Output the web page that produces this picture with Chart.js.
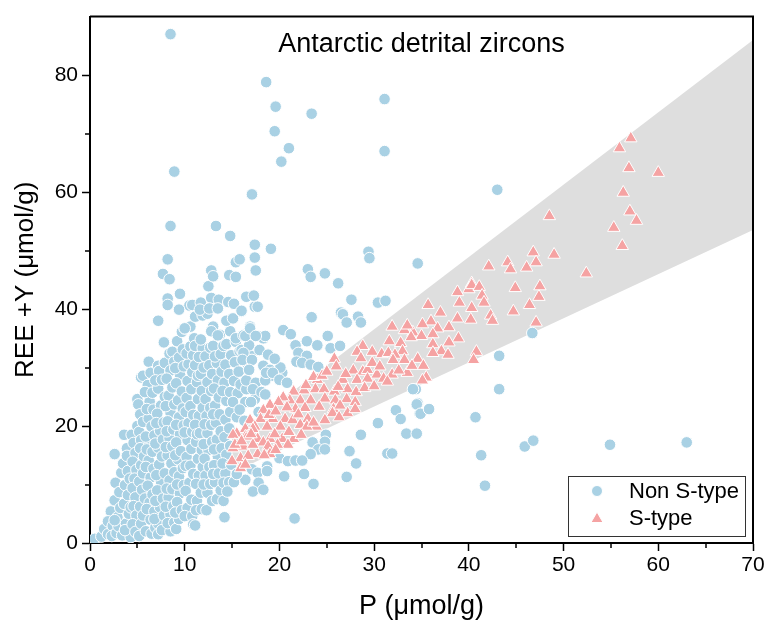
<!DOCTYPE html>
<html>
<head>
<meta charset="utf-8">
<script src="https://cdn.jsdelivr.net/npm/chart.js@4.4.0/dist/chart.umd.min.js"></script>
<style>
  html, body { margin: 0; padding: 0; background: #fff; }
</style>
</head>
<body>
<canvas id="myScatter" width="767" height="635"></canvas>
<script>
  const titleText = 'Antarctic detrital zircons';
  const xLabel = 'P (\u03bcmol/g)';
  const yLabel = 'REE +Y (\u03bcmol/g)';
  const seriesNames = ['Non S-type', 'S-type'];

  const xTicks = [0, 10, 20, 30, 40, 50, 60, 70];
  const xMinor = [5, 15, 25, 35, 45, 55, 65];
  const yTicks = [0, 20, 40, 60, 80];
  const yMinor = [10, 30, 50, 70];

  // grey field of S-type zircons
  const bandX = [15, 70];
  const bandUpper = [18, 86];
  const bandLower = [12, 53.5];

  // Non S-type, [P, REE+Y]
  const nonSType = [
    // main cluster, left to right
    [0.5,0.7],[1.2,1.1],[1.5,2.4],[1.9,1.5],[2.2,5.4],[1.9,3.7],[2.4,2.9],[2.3,1.2],
    [2.6,15.2],[2.7,10.3],[2.6,7.3],[2.9,4.4],[2.8,1.7],[3.1,8.7],[3.2,6.0],[3.0,2.9],[2.6,3.9],[3.3,12.0],[3.4,1.3],
    [3.6,18.5],[3.5,13.6],[3.9,16.2],[3.7,9.9],[4.0,12.3],[3.8,3.3],[4.1,5.0],[3.6,6.7],[4.0,8.2],[3.9,14.9],[4.3,1.0],[4.2,11.0],[3.7,2.2],[4.4,18.5],[4.3,6.1],
    [5.0,20.0],[4.6,17.1],[4.8,15.4],[4.5,13.9],[4.9,12.5],[4.7,11.0],[4.5,9.4],[4.8,7.8],[4.6,6.3],[4.9,4.7],[4.5,3.2],[4.8,1.9],[5.2,1.2],[5.0,24.6],[5.1,23.7],[5.3,22.0],[5.2,19.0],[5.4,17.6],[5.3,16.2],[5.4,13.3],[5.2,10.5],[5.5,9.1],[5.3,6.2],[5.4,3.3],
    [5.4,28.3],[5.6,28.6],[5.6,20.7],[5.7,14.8],[5.6,11.9],[5.8,7.6],[5.6,4.7],[5.9,2.0],[6.2,31.0],[6.4,29.1],[6.1,27.0],[6.3,24.2],[6.2,21.3],[6.5,19.9],[6.3,17.0],[6.2,14.1],[6.4,11.2],[6.1,9.8],[6.3,6.9],[6.4,4.0],[6.5,1.6],[5.8,25.8],[6.0,22.9],[5.9,18.2],[6.0,16.0],[5.9,13.0],[6.0,5.8],
    [6.6,25.7],[6.7,22.8],[6.8,18.4],[6.6,15.6],[6.7,12.7],[6.6,8.3],[6.8,5.4],[6.9,2.6],[7.2,30.3],[7.3,29.4],[7.2,26.4],[7.5,23.5],[7.1,22.1],[7.4,19.2],[7.2,16.3],[7.3,13.4],[7.5,10.5],[7.1,9.0],[7.4,6.1],[7.2,3.3],[7.2,1.5],[6.9,27.8],[7.0,20.5],[6.9,17.0],[7.0,11.6],[6.9,7.2],[6.8,4.1],
    [7.9,30.8],[7.6,27.9],[7.9,25.0],[7.8,20.6],[7.7,17.7],[7.6,14.8],[7.9,11.9],[7.7,7.6],[7.8,4.7],[7.6,2.2],[8.4,32.4],[8.5,29.5],[8.1,28.1],[8.3,25.2],[8.5,22.3],[8.2,20.8],[8.4,17.9],[8.2,15.0],[8.6,13.6],[8.4,10.7],[8.3,7.8],[8.5,4.9],[8.5,2.0],[8.0,23.4],[8.1,19.1],[8.0,16.4],[8.1,9.3],[8.0,6.2],[8.2,3.4],[7.8,34.3],
    [8.7,32.7],[8.9,31.0],[8.7,26.6],[8.9,23.7],[8.8,19.4],[8.7,16.5],[8.9,12.1],[8.7,9.2],[8.8,6.3],[8.9,3.5],[9.2,34.5],[9.4,31.7],[9.5,28.8],[9.1,27.3],[9.3,24.4],[9.4,21.5],[9.5,18.6],[9.1,17.2],[9.3,14.3],[9.4,11.4],[9.5,8.5],[9.2,7.0],[9.1,2.4],[9.4,4.1],[9.0,29.9],[9.1,20.2],[9.0,15.0],[9.2,10.0],[9.0,5.2],
    [9.7,36.1],[9.8,33.1],[9.9,30.2],[9.7,25.9],[9.8,23.0],[9.9,20.1],[9.6,15.7],[9.8,12.8],[9.9,9.9],[9.7,5.6],[10.0,36.7],[10.4,30.6],[10.3,27.7],[10.2,24.8],[10.4,20.5],[10.3,17.6],[10.2,14.7],[10.5,10.3],[10.1,8.9],[10.3,6.0],[10.2,32.4],[10.1,22.4],[10.0,18.9],[10.1,13.2],[10.0,4.6],
    [10.6,37.0],[10.6,33.6],[10.9,32.1],[10.8,29.2],[10.7,26.3],[10.6,23.4],[10.9,21.9],[10.8,19.0],[10.7,16.1],[10.6,13.2],[10.9,11.8],[10.7,7.4],[10.8,4.6],[10.9,3.2],[11.1,3.0],[11.0,35.0],[11.1,33.7],[11.1,30.4],[11.3,27.5],[11.4,24.6],[11.5,21.7],[11.1,20.2],[11.2,17.3],[11.4,14.4],[11.5,11.5],[11.2,10.1],[11.3,7.2],[11.2,5.6],[11.4,28.6],[11.3,18.6],
    [11.9,33.3],[11.5,31.8],[11.7,28.9],[11.8,26.0],[11.9,23.1],[11.6,18.8],[11.8,15.9],[11.9,13.0],[11.7,8.6],[11.8,5.8],[12.3,5.6],[12.2,31.9],[12.4,27.5],[12.2,24.6],[12.3,21.7],[12.4,18.8],[12.5,15.9],[12.1,14.4],[12.2,11.5],[12.4,8.6],[12.0,30.0],[12.1,20.3],[12.0,16.9],[12.0,10.0],[11.7,34.8],
    [12.7,33.4],[12.6,30.4],[12.9,28.9],[12.8,26.0],[12.7,23.1],[12.8,20.2],[12.9,17.3],[12.6,13.0],[12.7,10.1],[12.9,7.2],[13.0,33.7],[13.4,30.8],[13.5,27.8],[13.1,26.4],[13.2,23.5],[13.3,20.6],[13.4,17.7],[13.5,14.8],[13.1,13.3],[13.2,10.4],[13.4,7.5],[13.0,22.0],[13.1,16.0],[13.0,11.8],[13.2,31.9],
    [13.7,35.6],[13.8,32.3],[13.9,29.3],[13.6,24.9],[13.7,22.0],[13.8,19.1],[13.9,16.2],[13.6,11.9],[13.8,9.0],[14.1,33.7],[14.3,30.5],[14.2,27.4],[14.4,24.3],[14.3,21.1],[14.2,18.1],[14.4,15.1],[14.3,11.9],[14.2,4.4],[14.1,7.2],[14.0,26.0],[14.0,13.6],[14.1,10.3],
    [14.8,36.2],[14.4,34.0],[14.9,32.1],[14.7,28.9],[14.8,25.8],[14.9,22.6],[14.7,19.6],[14.8,16.6],[14.9,13.4],[14.7,10.4],[14.5,8.8],[14.8,22.4],[15.3,30.9],[15.2,27.7],[15.6,25.6],[15.1,24.1],[15.5,21.5],[15.5,11.8],[15.2,10.4],[15.4,34.4],[15.4,35.0],
    [15.8,32.8],[15.7,29.3],[16.0,33.0],[17.0,32.0],[16.7,30.5],[15.9,27.1],[16.5,26.3],[16.2,35.5],[16.9,37.0],[16.8,33.8],[16.2,32.5],[16.1,31.3],[17.1,31.3],[16.5,27.8],[16.4,24.1],[16.4,10.8],[16.8,29.6],[16.4,35.4],[16.9,36.7],[17.5,27.4],[17.4,24.6],[17.0,24.1],[17.8,22.4],[17.2,26.3],[15.8,22.8],[16.3,20.9],
    [17.7,35.4],[18.3,35.0],[18.5,35.4],[17.5,35.4],[18.3,30.3],[19.0,29.6],[20.3,29.1],[20.1,30.0],[19.2,28.6],[18.5,27.8],[18.1,25.8],[18.5,25.4],[18.6,29.1],[19.3,29.1],[20.0,27.9],[20.8,27.4],[17.9,33.0],[18.8,32.2],[19.5,31.5],[17.1,12.6],[18.7,13.1],
    // scattered above the cluster
    [7.2,38.0],[11.1,38.7],[11.9,38.9],[12.4,39.2],[14.4,38.0],[15.1,38.4],[16.0,39.6],[17.4,40.4],[10.0,36.7],[13.0,37.0],[12.8,36.2],[13.5,35.5],
    [12.5,43.9],[9.5,42.6],[8.2,41.8],[8.2,40.7],[10.5,40.6],[10.8,40.7],[11.7,41.1],[12.8,41.9],[13.6,41.6],[14.6,41.2],[15.2,40.9],[16.5,42.1],[17.3,42.3],[17.7,40.4],[9.4,39.9],[11.6,39.9],[12.6,40.1],[13.5,40.1],[16.0,39.7],
    [8.5,54.2],[13.3,54.2],[14.8,52.5],[17.4,51.0],[19.1,50.3],[8.2,48.5],[7.7,46.0],[8.4,45.1],[12.8,46.6],[13.0,45.6],[14.7,45.8],[15.4,48.0],[15.8,48.5],[15.4,45.5],[17.4,48.8],[17.5,46.6],
    [8.5,87.0],[18.6,78.8],[19.6,74.6],[19.5,70.4],[21.0,67.5],[20.2,65.2],[23.4,73.4],[31.1,75.9],[31.1,67.0],[8.9,63.5],[17.1,59.6],[43.0,60.4],
    [23.0,46.8],[23.3,45.5],[24.8,46.1],[29.4,49.8],[29.5,48.7],[34.6,47.8],[26.2,44.4],[27.6,41.6],[30.4,41.1],[31.2,41.4],
    [23.4,38.6],[26.5,39.4],[26.7,39.1],[28.3,38.7],[27.1,37.7],[28.6,37.7],[20.4,36.4],[21.2,35.7],[22.9,34.5],[21.7,33.8],[24.0,33.8],[25.1,35.4],[25.4,33.3],[26.4,33.7],[22.0,32.5],[22.9,32.0],[21.8,31.0],[22.4,30.8],[23.3,30.5],[24.1,30.1],
    // below the grey field
    [34.4,26.3],[34.6,23.9],[32.3,22.7],[32.8,21.2],[34.8,22.1],[30.4,20.5],[33.4,18.7],[28.6,18.5],[24.9,18.5],[24.8,17.3],[23.5,17.2],[24.1,16.0],[24.8,16.0],[27.4,15.7],[31.4,15.3],[31.9,15.3],[28.1,13.6],[23.3,15.2],[20.0,14.5],[20.9,14.0],[21.7,14.1],[22.4,14.1],[17.7,12.0],[18.7,12.3],[20.5,11.4],[22.6,11.8],[23.6,10.1],[27.1,11.3],[17.8,10.3],[17.2,8.8],[18.3,9.1],[15.5,11.8],[21.6,4.2],
    [46.7,35.9],[43.2,32.0],[43.2,26.3],[34.1,26.3],[34.5,23.7],[34.9,22.1],[35.8,22.9],[34.5,18.7],[40.7,21.5],[41.3,15.0],[41.7,9.8],[45.9,16.5],[46.8,17.5],[54.9,16.8],[63.0,17.2]
  ];

  // S-type, [P, REE+Y]
  const sType = [
    [57.1,69.2],[55.9,67.5],[56.9,64.1],[60.0,63.3],[56.3,59.9],[57.0,56.7],[57.7,55.1],[55.3,53.9],[56.2,50.8],[48.5,55.9],
    [46.8,49.7],[49.0,49.3],[47.1,48.0],[44.1,48.0],[44.4,46.8],[42.1,47.3],[46.1,47.1],[52.4,46.1],[40.3,44.4],
    [38.8,42.9],[40.0,43.4],[40.3,44.1],[41.1,43.8],[41.4,42.3],[41.6,41.1],[39.0,41.1],[35.7,40.7],[44.9,43.6],[47.5,43.9],[47.4,42.1],[46.4,40.7],[44.7,39.6],
    [40.3,40.2],[40.2,38.2],[42.3,38.9],[42.5,38.0],[38.8,38.4],[37.0,39.4],[36.0,37.9],[35.1,37.4],[47.1,37.7],[37.9,36.9],[36.7,36.7],[34.1,36.0],[33.2,36.4],
    [36.2,35.7],[35.0,35.4],[33.9,35.2],[38.9,35.0],[37.9,34.3],[36.2,34.0],[32.8,34.2],[37.1,32.8],[37.8,32.2],[36.2,32.5],[33.0,32.8],[40.8,32.7],[40.5,31.3],
    [34.6,31.5],[33.2,31.3],[35.2,30.3],[33.5,29.1],[35.5,28.3],[35.1,27.8],
    [31.9,37.0],[33.5,37.2],[31.6,34.5],[28.8,33.7],[28.2,32.7],[29.8,32.7],[30.8,32.3],[31.5,32.5],[32.2,32.2],[25.8,31.5],[28.6,31.6],[32.0,31.3],
    [27.8,29.5],[28.8,29.3],[29.3,29.6],[30.3,28.8],[31.9,28.8],[32.6,29.5],[34.0,30.3],[26.7,27.9],[24.0,27.9],[28.2,27.9],[29.3,28.1],[31.0,28.1],[31.4,27.6],
    [23.8,26.3],[24.7,26.3],[22.6,26.1],[21.5,25.9],[25.8,25.9],[27.2,26.3],[28.1,25.8],[24.8,24.7],[25.9,24.4],[27.1,24.6],[28.0,24.1],
    [22.2,24.4],[23.3,24.4],[21.1,24.4],[20.4,24.9],[19.9,24.1],[19.0,23.6],[18.3,22.7],[22.7,23.1],[21.7,22.9],[25.7,22.9],[27.2,22.2],[28.0,22.9],[25.6,22.2],
    [18.0,21.2],[16.9,21.0],[19.3,21.2],[20.6,21.2],[21.4,21.0],[23.0,21.2],[22.2,20.2],[23.9,19.9],[22.9,19.9],[20.1,19.9],[18.7,19.9],[17.4,19.9],[16.4,19.5],
    [15.5,18.7],[16.4,18.2],[17.7,17.8],[19.0,17.8],[20.3,17.8],[21.5,17.8],[18.3,17.2],[20.9,16.8],[19.8,16.8],[18.8,16.5],[16.2,16.5],[15.1,16.2],
    [17.7,15.2],[19.0,15.2],[15.9,14.5],[15.0,14.0],[15.1,18.5],[15.3,16.8],[15.9,12.8],[16.6,18.2],[17.2,19.5],
    [16.0,17.4],[17.0,18.6],[18.9,21.9],[19.6,22.5],[20.8,23.2],[22.0,22.0],[22.8,27.0],[23.6,28.4],[24.5,28.6],[25.0,29.3],[26.0,30.2],
    [24.2,23.3],[24.8,21.0],[26.3,21.5],[23.6,20.6],[21.0,19.0],[19.5,18.6],[17.2,16.8],[16.7,14.9],[18.4,15.0],[16.4,13.4],[19.6,15.9],
    [22.3,18.5],[26.4,23.5],[29.0,26.5],[30.0,26.8],[29.8,30.8],[30.6,30.2],[27.0,28.9],[26.2,26.7]
  ];

  const blue = '#a9d1e4';
  const pink = '#f5a3a3';
  const band = '#dedede';
  const fontFamily = '"Liberation Sans", Arial, sans-serif';

  const toPts = arr => arr.map(p => ({ x: p[0], y: p[1] }));

  // frame, minor ticks, inner title and legend
  const decorations = {
    id: 'decorations',
    afterDraw(chart) {
      const { ctx, chartArea: a, scales: { x, y } } = chart;
      ctx.save();
      ctx.strokeStyle = '#000';
      ctx.lineWidth = 2;
      ctx.beginPath();
      ctx.moveTo(a.left, a.top);
      ctx.lineTo(a.right, a.top);
      ctx.lineTo(a.right, a.bottom);
      ctx.stroke();

      ctx.lineWidth = 1.5;
      ctx.beginPath();
      xMinor.forEach(v => {
        const px = Math.round(x.getPixelForValue(v));
        ctx.moveTo(px, a.bottom);
        ctx.lineTo(px, a.bottom + 5);
      });
      yMinor.forEach(v => {
        const py = Math.round(y.getPixelForValue(v));
        ctx.moveTo(a.left, py);
        ctx.lineTo(a.left - 5, py);
      });
      ctx.stroke();

      ctx.fillStyle = '#000';
      ctx.font = '27px ' + fontFamily;
      ctx.textAlign = 'center';
      ctx.textBaseline = 'middle';
      ctx.fillText(titleText, (a.left + a.right) / 2, a.top + 28);

      // legend box
      const bx = a.right - 185, by = a.bottom - 67, bw = 177, bh = 60;
      ctx.lineWidth = 1;
      ctx.strokeStyle = '#333';
      ctx.strokeRect(bx + 0.5, by + 0.5, bw, bh);

      ctx.fillStyle = blue;
      ctx.strokeStyle = '#fff';
      ctx.beginPath();
      ctx.arc(bx + 29, by + 15, 5.5, 0, Math.PI * 2);
      ctx.fill();
      ctx.stroke();

      ctx.fillStyle = pink;
      const tx = bx + 29, ty = by + 43, r = 7;
      ctx.beginPath();
      ctx.moveTo(tx, ty - r);
      ctx.lineTo(tx + r * 0.866, ty + r * 0.5);
      ctx.lineTo(tx - r * 0.866, ty + r * 0.5);
      ctx.closePath();
      ctx.fill();
      ctx.stroke();

      ctx.fillStyle = '#000';
      ctx.font = '22px ' + fontFamily;
      ctx.textAlign = 'left';
      ctx.fillText(seriesNames[0], bx + 61, by + 16);
      ctx.fillText(seriesNames[1], bx + 61, by + 43);
      ctx.restore();
    }
  };

  const scatter = document.getElementById('myScatter');

  new Chart(scatter, {
    type: 'scatter',
    data: {
      datasets: [
        {
          type: 'line',
          data: bandX.map((v, i) => ({ x: v, y: bandUpper[i] })),
          borderWidth: 0,
          pointRadius: 0,
          fill: false,
          order: 3
        },
        {
          type: 'line',
          data: bandX.map((v, i) => ({ x: v, y: bandLower[i] })),
          borderWidth: 0,
          pointRadius: 0,
          backgroundColor: band,
          fill: '-1',
          order: 3
        },
        {
          label: seriesNames[0],
          data: toPts(nonSType),
          pointStyle: 'circle',
          pointRadius: 5.8,
          backgroundColor: blue,
          borderColor: '#ffffff',
          borderWidth: 1,
          order: 2
        },
        {
          label: seriesNames[1],
          data: toPts(sType),
          pointStyle: 'triangle',
          pointRadius: 7.2,
          backgroundColor: pink,
          borderColor: '#ffffff',
          borderWidth: 1,
          order: 1
        }
      ]
    },
    options: {
      responsive: false,
      animation: false,
      events: [],
      layout: { padding: { top: 10, right: 14, left: 0, bottom: 0 } },
      plugins: {
        legend: { display: false },
        tooltip: { enabled: false },
        title: { display: false }
      },
      scales: {
        x: {
          type: 'linear',
          min: 0,
          max: 70,
          afterFit: s => { s.height = 92; },
          ticks: {
            stepSize: 10,
            includeBounds: false,
            color: '#000',
            font: { family: fontFamily, size: 21 },
            padding: 2,
            maxRotation: 0
          },
          afterBuildTicks: s => { s.ticks = xTicks.map(v => ({ value: v })); },
          grid: { drawOnChartArea: false, drawTicks: true, tickLength: 8, tickColor: '#000', tickWidth: 1.5 },
          border: { display: true, color: '#000', width: 2 },
          title: {
            display: true,
            text: xLabel,
            color: '#000',
            font: { family: fontFamily, size: 27 },
            padding: { top: 0, bottom: 12 }
          }
        },
        y: {
          type: 'linear',
          min: 0,
          max: 90,
          afterFit: s => { s.width = 90; },
          ticks: {
            stepSize: 20,
            includeBounds: false,
            color: '#000',
            font: { family: fontFamily, size: 21 },
            padding: 4
          },
          afterBuildTicks: s => { s.ticks = yTicks.map(v => ({ value: v })); },
          grid: { drawOnChartArea: false, drawTicks: true, tickLength: 8, tickColor: '#000', tickWidth: 1.5 },
          border: { display: true, color: '#000', width: 2 },
          title: {
            display: true,
            text: yLabel,
            color: '#000',
            font: { family: fontFamily, size: 26 },
            padding: { top: 10, bottom: 0 }
          }
        }
      }
    },
    plugins: [decorations]
  });
</script>
</body>
</html>
